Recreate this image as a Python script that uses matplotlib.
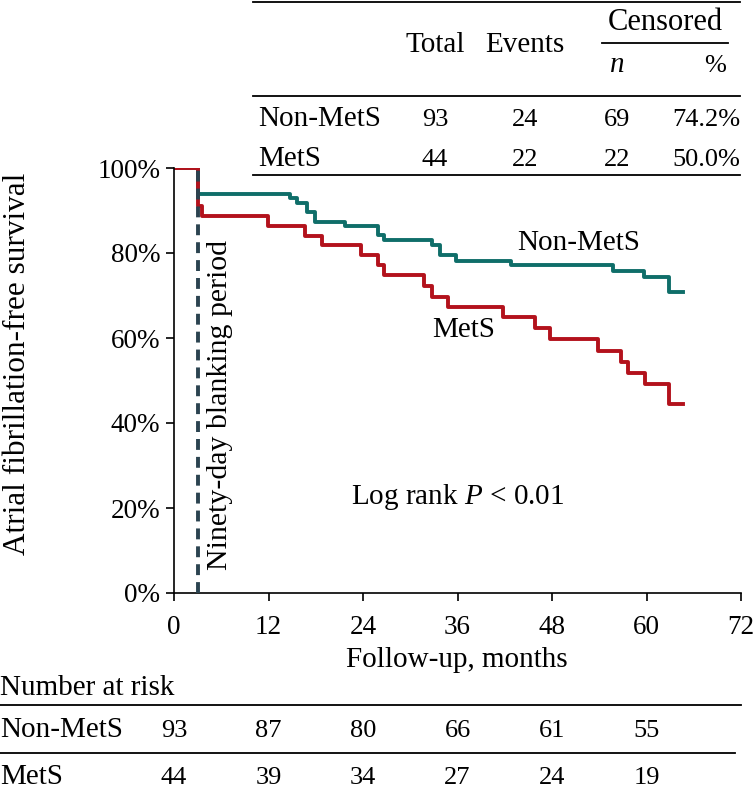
import matplotlib
matplotlib.use('Agg')
import matplotlib.pyplot as plt
from matplotlib.transforms import blended_transform_factory

plt.rcParams['font.family'] = ['Liberation Serif', 'DejaVu Serif']
plt.rcParams['mathtext.fontset'] = 'custom'
plt.rcParams['mathtext.rm'] = 'Liberation Serif'
plt.rcParams['mathtext.it'] = 'Liberation Serif:italic'

# Kaplan-Meier steps (months, survival %)
nonmets_t = [0, 3.0, 14.7, 15.6, 16.9, 17.9, 21.7, 25.9, 26.7, 32.8, 33.8, 35.8, 42.8, 55.8, 59.7, 62.8, 64.6]
nonmets_s = [100, 93.8, 92.9, 91.8, 89.7, 87.4, 86.4, 84.2, 83.0, 81.9, 79.5, 78.2, 77.2, 75.8, 74.4, 70.8, 70.8]
mets_t = [0, 3.0, 3.5, 11.9, 16.6, 18.8, 23.8, 25.9, 26.7, 31.8, 32.7, 34.8, 41.8, 45.8, 47.7, 53.8, 56.7, 57.7, 59.8, 62.8, 64.6]
mets_s = [100, 91.0, 88.6, 86.4, 84.1, 81.8, 79.5, 77.2, 74.8, 72.2, 69.7, 67.2, 64.9, 62.3, 59.7, 57.0, 54.4, 51.8, 49.2, 44.5, 44.5]

# summary table
groups = ['Non-MetS', 'MetS']
total = [93, 44]
events = [24, 22]
censored_n = [69, 22]
censored_pct = ['74.2%', '50.0%']

# number at risk
risk_months = [0, 12, 24, 36, 48, 60]
risk_nonmets = [93, 87, 80, 66, 61, 55]
risk_mets = [44, 39, 34, 27, 24, 19]

teal = '#0f6e69'
red = '#b3121c'
W, H = 756, 798

fig = plt.figure(figsize=(W / 100, H / 100), dpi=100)
ax = fig.add_axes([174 / W, 1 - 593 / H, (741 - 174) / W, (593 - 168) / H])
# overlay in pixel coords for the tables
ov = fig.add_axes([0, 0, 1, 1], zorder=-1)
ov.set_xlim(0, W)
ov.set_ylim(H, 0)
ov.axis('off')

fs = 21      # words
fsn = 19     # numbers

ax.step(nonmets_t, nonmets_s, where='post', color=teal, lw=2.8)
ax.step(mets_t, mets_s, where='post', color=red, lw=2.8)
ax.plot([3, 3], [0, 100], color='#2b4350', lw=2.8, dashes=(2.8, 1.8), zorder=5)

ax.set_xlim(0, 72)
ax.set_ylim(0, 100)
ax.set_xticks(range(0, 73, 12))
ax.set_yticks(range(0, 101, 20))
ax.set_yticklabels([f'{v}%' for v in range(0, 101, 20)])
ax.tick_params(direction='out', length=6, width=1.2, labelsize=19.5)
ax.tick_params(axis='x', pad=10)
ax.tick_params(axis='y', pad=4)
for s in ['top', 'right']:
    ax.spines[s].set_visible(False)
for s in ['left', 'bottom']:
    ax.spines[s].set_linewidth(1.2)
ax.patch.set_alpha(0)

ax.text(5.9, 5.3, 'Ninety-day blanking period', rotation=90, fontsize=21.5,
        ha='center', va='bottom')
ax.text(36, 22.6, 'Log rank $\\it{P}$ < 0.01', fontsize=fs, ha='center', va='center')
ax.text(51.4, 82.4, 'Non-MetS', fontsize=fs, ha='center', va='center')
ax.text(36.8, 61.9, 'MetS', fontsize=fs, ha='center', va='center')

fig.text(18 / W, 1 - 364 / H, 'Atrial fibrillation-free survival', rotation=90,
         fontsize=22.5, ha='center', va='center')
ov.text(457, 667, 'Follow-up, months', fontsize=fs, ha='center', va='baseline')

# summary table at top
lw = 1.3
ov.plot([253, 740], [1.5, 1.5], color='k', lw=lw)
ov.plot([602, 728], [43, 43], color='k', lw=lw)
ov.plot([253, 740], [95.5, 95.5], color='k', lw=lw)
ov.plot([253, 740], [175, 175], color='k', lw=lw)
ov.text(435, 52, 'Total', fontsize=fs, ha='center', va='baseline')
ov.text(525, 52, 'Events', fontsize=fs, ha='center', va='baseline')
ov.text(665, 30, 'Censored', fontsize=22, ha='center', va='baseline')
ov.text(617, 72, 'n', fontsize=fs, ha='center', va='baseline', style='italic')
ov.text(715, 72, '%', fontsize=fsn, ha='center', va='baseline')
for i, g in enumerate(groups):
    y = 126 + 40 * i
    ov.text(258, y, g, fontsize=fs, ha='left', va='baseline')
    ov.text(435, y, str(total[i]), fontsize=fsn, ha='center', va='baseline')
    ov.text(525, y, str(events[i]), fontsize=fsn, ha='center', va='baseline')
    ov.text(617, y, str(censored_n[i]), fontsize=fsn, ha='center', va='baseline')
    ov.text(740, y, censored_pct[i], fontsize=fsn, ha='right', va='baseline')

# number at risk table
ov.text(0, 695, 'Number at risk', fontsize=fs, ha='left', va='baseline')
ov.plot([0, 741], [705, 705], color='k', lw=lw)
ov.plot([0, 735], [753, 753], color='k', lw=lw)
ov.text(0, 737, 'Non-MetS', fontsize=fs, ha='left', va='baseline')
ov.text(0, 784, 'MetS', fontsize=fs, ha='left', va='baseline')
tr = blended_transform_factory(ax.transData, ov.transData)
for m, a, b in zip(risk_months, risk_nonmets, risk_mets):
    ov.text(m, 737, str(a), fontsize=fsn, ha='center', va='baseline', transform=tr)
    ov.text(m, 784, str(b), fontsize=fsn, ha='center', va='baseline', transform=tr)

fig.savefig('out.png', dpi=100)
